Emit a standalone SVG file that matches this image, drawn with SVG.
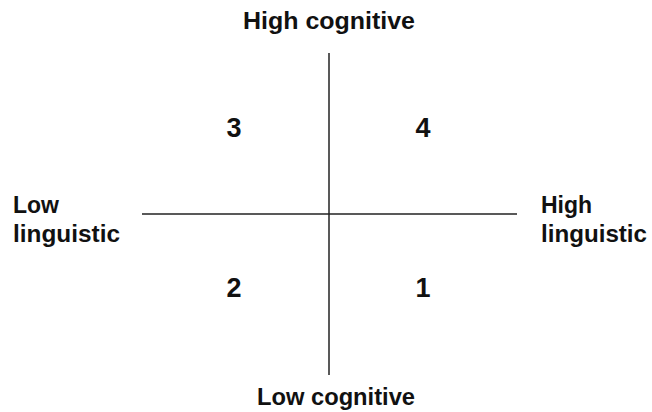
<svg xmlns="http://www.w3.org/2000/svg" width="652" height="412" viewBox="0 0 652 412">
<style>
.lbl{font-family:"Liberation Sans",Arial,sans-serif;font-weight:bold;font-size:23px;fill:#111}
.num{font-family:"Liberation Sans",Arial,sans-serif;font-weight:bold;font-size:27px;fill:#111}
.axis{stroke:#222;stroke-width:1.5;fill:none}
</style>
<rect width="652" height="412" fill="#fff"/>
<g id="connectors">
<line class="axis" x1="329" y1="53" x2="329" y2="375"/>
<line class="axis" x1="142" y1="214" x2="517" y2="214"/>
</g>
<g id="high-cognitive"><text class="lbl" x="243" y="29" textLength="172" lengthAdjust="spacingAndGlyphs">High cognitive</text></g>
<g id="low-cognitive"><text class="lbl" x="257" y="405" textLength="158" lengthAdjust="spacingAndGlyphs">Low cognitive</text></g>
<g id="low-linguistic"><text class="lbl" x="13" y="213">Low</text><text class="lbl" x="13" y="242" textLength="107" lengthAdjust="spacingAndGlyphs">linguistic</text></g>
<g id="high-linguistic"><text class="lbl" x="541" y="213">High</text><text class="lbl" x="541" y="242" textLength="106" lengthAdjust="spacingAndGlyphs">linguistic</text></g>
<g id="q3"><text class="num" x="234" y="137" text-anchor="middle">3</text></g>
<g id="q4"><text class="num" x="423" y="137" text-anchor="middle">4</text></g>
<g id="q2"><text class="num" x="234" y="297" text-anchor="middle">2</text></g>
<g id="q1"><text class="num" x="423" y="297" text-anchor="middle">1</text></g>
</svg>
